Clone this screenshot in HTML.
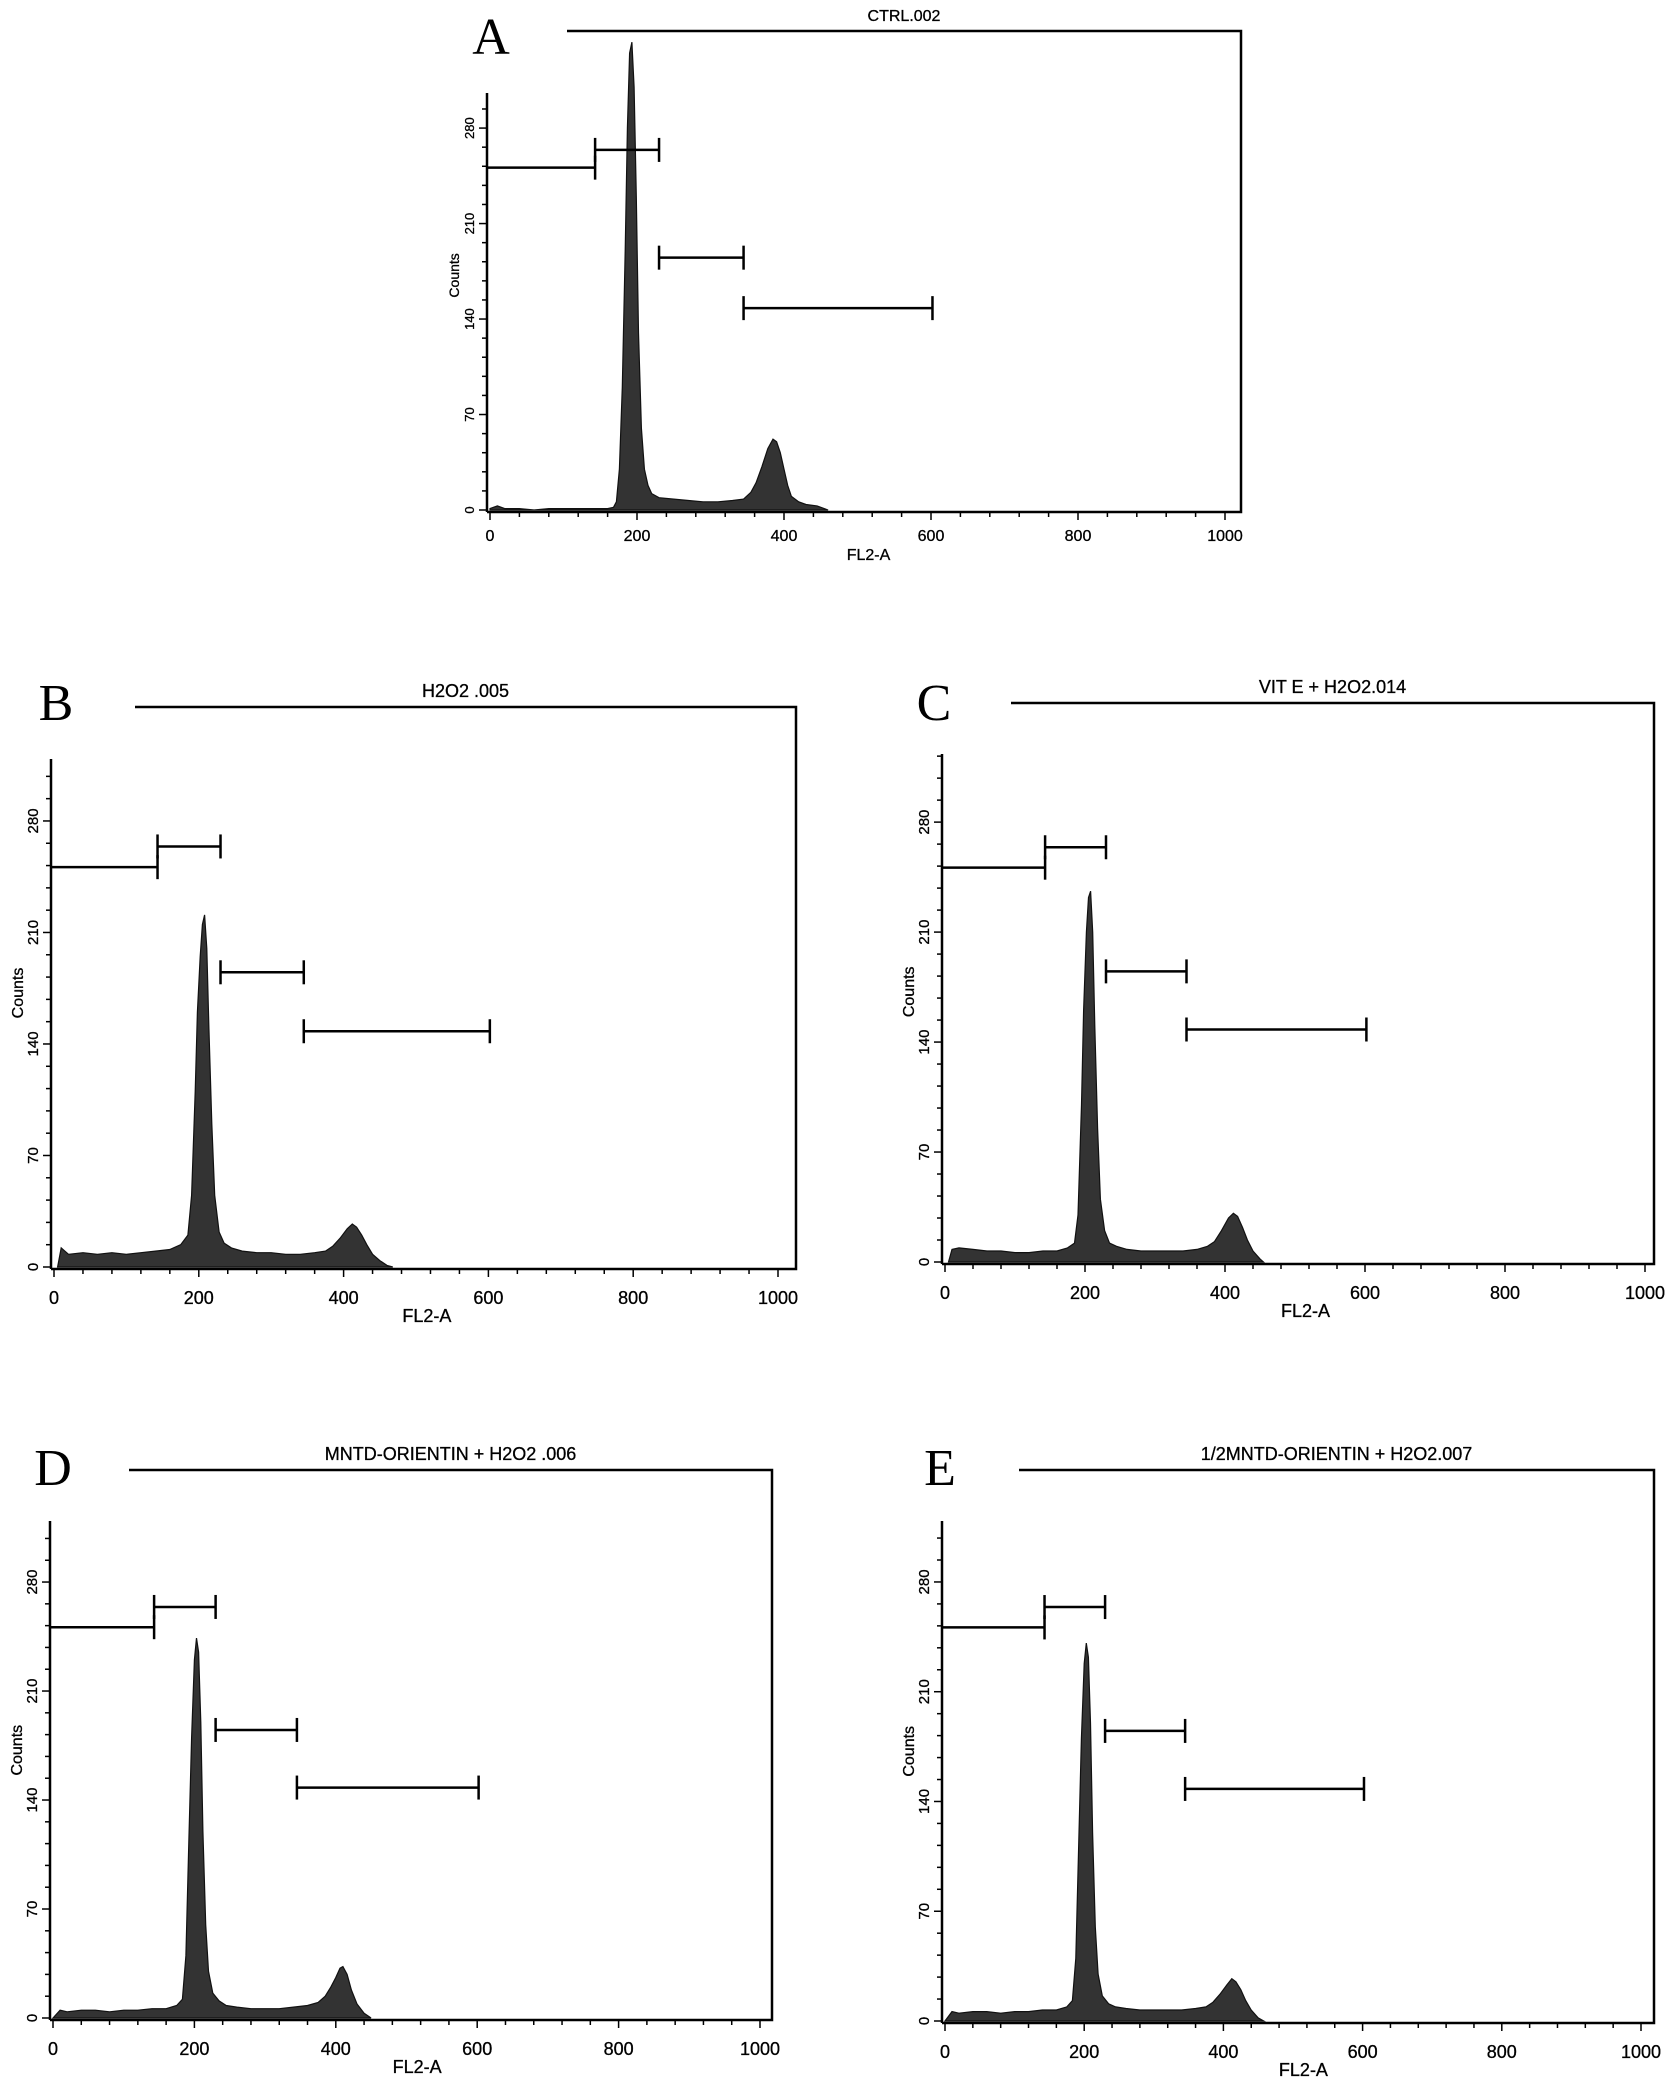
<!DOCTYPE html>
<html><head><meta charset="utf-8"><style>
html,body{margin:0;padding:0;background:#fff;}
svg{display:block;font-family:"Liberation Sans",sans-serif;}
</style></head><body>
<svg id="fig" width="1677" height="2087" viewBox="0 0 1677 2087" xmlns="http://www.w3.org/2000/svg"></svg>
<script>
// ---- data (FL2-A channel, counts) ----
const xTicks = [0,200,400,600,800,1000];
const yTicks = [0,70,140,210,280];
const gateStart = [0,143,230,345];
const gateEnd = [143,230,345,602];
const gateLevel = [251,264,185,148];

const aX = [0,10,20,40,60,80,100,120,140,160,168,172,176,180,184,187,190,193,196,199,202,206,210,215,220,230,250,270,290,310,330,345,355,362,370,378,385,390,395,400,405,410,420,430,445,460];
const aCounts = [1,3,1,1,0,1,1,1,1,1,2,6,30,90,190,280,335,343,310,230,130,60,30,18,12,9,8,7,6,6,7,8,13,20,32,45,52,50,42,30,18,10,6,4,3,0];

const bX = [5,10,20,40,60,80,100,120,140,160,175,185,190,195,198,202,205,208,211,214,218,222,228,235,245,260,280,300,320,340,360,375,385,395,405,412,418,425,432,440,450,460,468];
const bCounts = [0,12,8,9,8,9,8,9,10,11,14,20,45,110,160,195,215,221,200,150,90,45,22,15,12,10,9,9,8,8,9,10,13,18,24,27,25,20,14,8,4,1,0];

const cX = [5,10,20,40,60,80,100,120,140,160,175,185,190,195,198,202,205,208,211,214,218,222,228,235,245,260,280,300,320,340,360,375,385,395,405,412,418,425,432,440,450,455];
const cCounts = [0,8,9,8,7,7,6,6,7,7,9,12,30,100,160,210,232,236,210,150,85,40,20,12,10,8,7,7,7,7,8,10,13,20,28,31,29,22,14,7,2,0];

const dX = [0,10,20,40,60,80,100,120,140,160,175,183,188,192,196,200,203,206,209,212,216,220,226,235,245,260,280,300,320,340,360,375,385,393,400,406,410,416,422,430,440,450];
const dCounts = [0,5,4,5,5,4,5,5,6,6,8,12,40,110,180,230,244,235,190,120,60,30,16,11,8,7,6,6,6,7,8,10,14,20,26,32,33,28,18,9,3,0];

const eX = [0,10,20,40,60,80,100,120,140,160,175,183,188,192,196,200,203,206,209,212,216,220,226,235,245,260,280,300,320,340,360,375,385,395,405,412,418,425,432,440,450,458];
const eCounts = [0,6,5,6,6,5,6,6,7,7,9,13,40,110,180,228,241,232,190,120,60,30,16,11,9,8,7,7,7,7,8,9,12,17,23,27,25,20,13,7,2,0];

// ---- layout (positions, not data) ----
const panels = [
 {id:'a',xs:aX,cs:aCounts,title:'CTRL.002',letter:'A',x0:490,x1:1225,y0:510,yTop:93,ppc:1.364,right:1241,topY:31,topStart:567,lx:491,ly:54,fs:16},
 {id:'b',xs:bX,cs:bCounts,title:'H2O2 .005',letter:'B',x0:54,x1:778,y0:1267,yTop:759,ppc:1.593,right:796,topY:707,topStart:135,lx:56,ly:720,fs:18},
 {id:'c',xs:cX,cs:cCounts,title:'VIT E + H2O2.014',letter:'C',x0:945,x1:1645,y0:1262,yTop:754,ppc:1.571,right:1654,topY:703,topStart:1011,lx:934,ly:720,fs:18},
 {id:'d',xs:dX,cs:dCounts,title:'MNTD-ORIENTIN + H2O2 .006',letter:'D',x0:53,x1:760,y0:2018,yTop:1521,ppc:1.557,right:772,topY:1470,topStart:129,lx:53,ly:1485,fs:18},
 {id:'e',xs:eX,cs:eCounts,title:'1/2MNTD-ORIENTIN + H2O2.007',letter:'E',x0:945,x1:1641,y0:2021,yTop:1521,ppc:1.568,right:1654,topY:1470,topStart:1019,lx:940,ly:1485,fs:18}
];

const NS='http://www.w3.org/2000/svg';
const svg=document.getElementById('fig');
function mk(tag,attrs,parent){const e=document.createElementNS(NS,tag);for(const k in attrs)e.setAttribute(k,attrs[k]);(parent||svg).appendChild(e);return e;}

panels.forEach(p=>{
 const g=mk('g',{});
 
 
 const sx=v=>p.x0+(p.x1-p.x0)*v/1000;
 const sy=v=>p.y0-v*p.ppc;
 const axisX=p.x0-3;
 let d='M'+sx(p.xs[0])+' '+p.y0;
 p.xs.forEach((x,i)=>{d+=' L'+sx(x).toFixed(1)+' '+sy(p.cs[i]).toFixed(1);});
 d+=' L'+sx(p.xs[p.xs.length-1])+' '+p.y0+' Z';
 const h=mk('path',{d:d,fill:'#333',stroke:'#111','stroke-width':1.2},g);
 
 
 const fr=mk('path',{d:`M${p.topStart} ${p.topY} L${p.right} ${p.topY} L${p.right} ${p.y0+2} L${axisX} ${p.y0+2}`,fill:'none',stroke:'#000','stroke-width':2.5},g);
 
 
 const ya=mk('line',{x1:axisX,y1:p.yTop,x2:axisX,y2:p.y0+2,stroke:'#000','stroke-width':2.5},g);
 
 
 for(let v=0;v<=1000;v+=40){
  const t=mk('line',{x1:sx(v),y1:p.y0+2,x2:sx(v),y2:p.y0+(v%200===0?10:7),stroke:'#000','stroke-width':1.5},g);
  
  
 }
 xTicks.forEach(v=>{
  const t=mk('text',{x:sx(v),y:p.y0+(p.id==='a'?31:37),'font-size':p.fs,'text-anchor':'middle',fill:'#000',stroke:'#000','stroke-width':0.3},g);
  t.textContent=v;
  
  
 });
 const xt=mk('text',{x:sx(515),y:p.y0+(p.id==='a'?50:55),'font-size':p.fs,'text-anchor':'middle',fill:'#000',stroke:'#000','stroke-width':0.3},g);
 xt.textContent='FL2-A';
 
 
 for(let v=0;p.y0-v*p.ppc>=p.yTop;v+=14){
  const t=mk('line',{x1:axisX,y1:sy(v),x2:axisX-(v%70===0?8:5),y2:sy(v),stroke:'#000','stroke-width':1.5},g);
  
  
 }
 yTicks.forEach(v=>{
  const tx=axisX-13,ty=sy(v);
  const t=mk('text',{x:tx,y:ty,'font-size':p.fs-3,'text-anchor':'middle',transform:`rotate(-90 ${tx} ${ty})`,fill:'#000',stroke:'#000','stroke-width':0.3},g);
  t.textContent=v;
  
  
 });
 const cx=axisX-28,cy=sy(172);
 const yt=mk('text',{x:cx,y:cy,'font-size':p.fs-2,'text-anchor':'middle',transform:`rotate(-90 ${cx} ${cy})`,fill:'#000',stroke:'#000','stroke-width':0.3},g);
 yt.textContent='Counts';
 
 
 gateStart.forEach((s,i)=>{
  const y=sy(gateLevel[i]);
  const ln=mk('line',{x1:i===0?axisX:sx(s),y1:y,x2:sx(gateEnd[i]),y2:y,stroke:'#000','stroke-width':2.5},g);
  
  
  if(i>0){const t=mk('line',{x1:sx(s),y1:y-12,x2:sx(s),y2:y+12,stroke:'#000','stroke-width':2.5},g);
   
   }
  const t2=mk('line',{x1:sx(gateEnd[i]),y1:y-12,x2:sx(gateEnd[i]),y2:y+12,stroke:'#000','stroke-width':2.5},g);
  
  
 });
 const tt=mk('text',{x:(p.topStart+p.right)/2,y:p.topY-10,'font-size':p.fs,'text-anchor':'middle',fill:'#000',stroke:'#000','stroke-width':0.3},g);
 tt.textContent=p.title;
 
 
 const lt=mk('text',{x:p.lx,y:p.ly,'font-size':52,'text-anchor':'middle','font-family':'"Liberation Serif",serif',fill:'#000'},g);
 lt.textContent=p.letter;
 
 
});
</script>
</body></html>
